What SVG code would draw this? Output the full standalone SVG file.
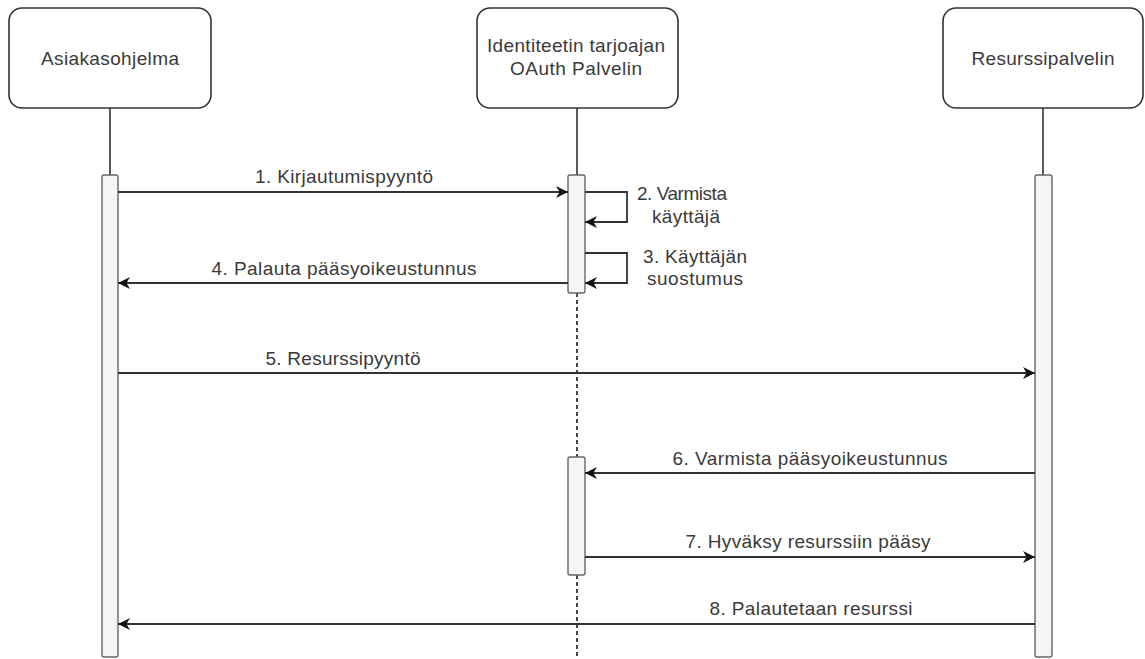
<svg xmlns="http://www.w3.org/2000/svg" width="1145" height="659" viewBox="0 0 1145 659">
<style>
.box{fill:#fff;stroke:#333;stroke-width:1.6}
.bar{fill:#f5f5f5;stroke:#666;stroke-width:1.4}
.life{stroke:#333;stroke-width:1.6;fill:none}
.dash{stroke:#333;stroke-width:1.8;stroke-dasharray:4 3;fill:none}
.msg{stroke:#333;stroke-width:1.8;fill:none;marker-end:url(#arr)}
text{font-family:"Liberation Sans",Arial,sans-serif;font-size:19px;fill:#3a3a3a;text-anchor:middle}
</style>
<defs>
<marker id="arr" viewBox="0 0 10 10" refX="10" refY="5" markerWidth="13" markerHeight="12" orient="auto" markerUnits="userSpaceOnUse">
<path d="M0,0 L10,5 L0,10 L3,5 z" fill="#111"/>
</marker>
</defs>
<g id="lifelines">
<line class="life" x1="110" y1="108" x2="110" y2="175"/>
<line class="life" x1="577" y1="108" x2="577" y2="175"/>
<line class="dash" x1="577" y1="293" x2="577" y2="457"/>
<line class="dash" x1="577" y1="575" x2="577" y2="659"/>
<line class="life" x1="1043" y1="108" x2="1043" y2="175"/>
</g>
<g id="node-asiakasohjelma">
<rect class="box" x="9" y="8" width="202" height="100" rx="13"/>
<text x="110" y="65" textLength="138" lengthAdjust="spacing">Asiakasohjelma</text>
</g>
<g id="node-oauth">
<rect class="box" x="477" y="8" width="201" height="100" rx="13"/>
<text x="576" y="52" textLength="178" lengthAdjust="spacing">Identiteetin tarjoajan</text>
<text x="576" y="75" textLength="132" lengthAdjust="spacing">OAuth Palvelin</text>
</g>
<g id="node-resurssipalvelin">
<rect class="box" x="943" y="8" width="200" height="100" rx="13"/>
<text x="1043" y="65" textLength="143" lengthAdjust="spacing">Resurssipalvelin</text>
</g>
<g id="activations">
<rect class="bar" x="102" y="175" width="16" height="482" rx="2"/>
<rect class="bar" x="568" y="175" width="17" height="118" rx="2"/>
<rect class="bar" x="568" y="457" width="17" height="118" rx="2"/>
<rect class="bar" x="1035" y="175" width="17" height="482" rx="2"/>
</g>
<g id="connectors">
<line class="msg" x1="118" y1="192" x2="568" y2="192"/>
<polyline class="msg" points="585,192 627,192 627,222 585,222"/>
<polyline class="msg" points="585,253 627,253 627,283 585,283"/>
<line class="msg" x1="568" y1="283" x2="118" y2="283"/>
<line class="msg" x1="118" y1="373" x2="1035" y2="373"/>
<line class="msg" x1="1035" y1="473" x2="585" y2="473"/>
<line class="msg" x1="585" y1="557" x2="1035" y2="557"/>
<line class="msg" x1="1035" y1="624" x2="118" y2="624"/>
</g>
<g id="labels">
<text x="344" y="183" textLength="178" lengthAdjust="spacing">1. Kirjautumispyyntö</text>
<text x="682" y="200" textLength="90" lengthAdjust="spacing">2. Varmista</text>
<text x="686" y="223" textLength="68" lengthAdjust="spacing">käyttäjä</text>
<text x="695" y="263" textLength="104" lengthAdjust="spacing">3. Käyttäjän</text>
<text x="695" y="285" textLength="96" lengthAdjust="spacing">suostumus</text>
<text x="344" y="275" textLength="265" lengthAdjust="spacing">4. Palauta pääsyoikeustunnus</text>
<text x="343" y="365" textLength="155" lengthAdjust="spacing">5. Resurssipyyntö</text>
<text x="810" y="465" textLength="275" lengthAdjust="spacing">6. Varmista pääsyoikeustunnus</text>
<text x="808" y="548" textLength="245" lengthAdjust="spacing">7. Hyväksy resurssiin pääsy</text>
<text x="811" y="615" textLength="203" lengthAdjust="spacing">8. Palautetaan resurssi</text>
</g>
</svg>
